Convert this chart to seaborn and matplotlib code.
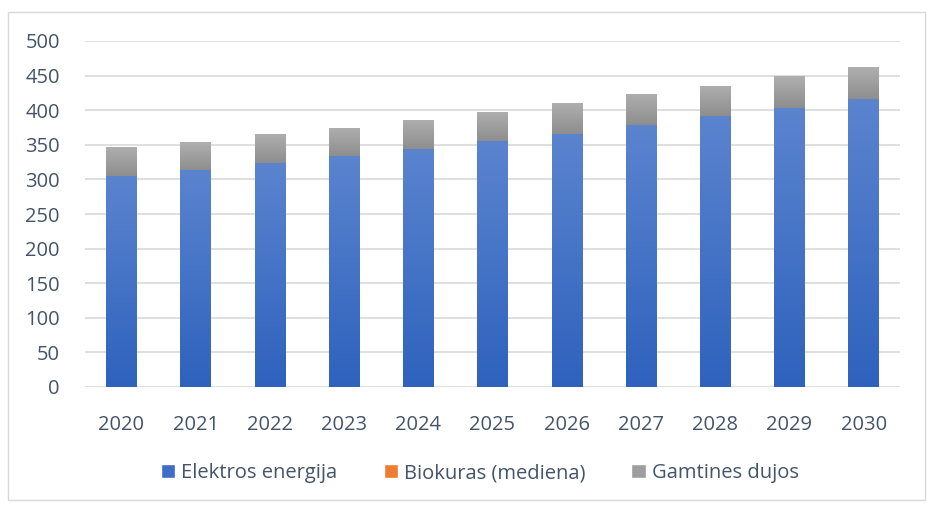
import numpy as np
import pandas as pd
import matplotlib
matplotlib.use('Agg')
import matplotlib.pyplot as plt
import seaborn as sns
from matplotlib.colors import LinearSegmentedColormap
from matplotlib.patches import Patch, Rectangle

# =============================================================================
# Data
# =============================================================================
years = ['2020', '2021', '2022', '2023', '2024', '2025', '2026', '2027', '2028', '2029', '2030']
elektros = [305, 314, 324, 334, 344, 355, 366, 378, 391, 403, 416]
biokuras = [0, 0, 0, 0, 0, 0, 0, 0, 0, 0, 0]
dujos = [42, 40, 42, 41, 42, 43, 45, 45, 44, 46, 46]
series_names = ['Elektros energija', 'Biokuras (mediena)', 'Gamtines dujos']

df = pd.DataFrame({'Metai': years, 'Elektros': elektros,
                   'Biokuras': biokuras, 'Dujos': dujos})
df['Bio_top'] = df['Elektros'] + df['Biokuras']
df['Viso'] = df['Bio_top'] + df['Dujos']

sns.set_style('white')
plt.rcParams['font.family'] = ['Open Sans', 'DejaVu Sans']
txt_col = '#44546A'

fig = plt.figure(figsize=(9.28, 5.05), dpi=100)
ax = fig.add_axes([85 / 928, 1 - 387 / 505, 815 / 928, 346 / 505])

# stacked bars: draw the totals first, then the lower parts over them
sns.barplot(data=df, x='Metai', y='Viso', color='#9E9E9E', width=0.41,
            saturation=1, ax=ax, zorder=2, linewidth=0)
sns.barplot(data=df, x='Metai', y='Bio_top', color='#ED7D31', width=0.41,
            saturation=1, ax=ax, zorder=3, linewidth=0)
sns.barplot(data=df, x='Metai', y='Elektros', color='#4472C4', width=0.41,
            saturation=1, ax=ax, zorder=4, linewidth=0)

n = len(years)
patches = ax.patches
gray_p = patches[:n]
blue_p = patches[2 * n:3 * n]

cm_blue = LinearSegmentedColormap.from_list('b', ['#2E62BD', '#5B84CF'])
cm_gray = LinearSegmentedColormap.from_list('g', ['#8E8E8E', '#AFAFAF'])
grad = np.linspace(0, 1, 256).reshape(-1, 1)

for i in range(n):
    bp, gp = blue_p[i], gray_p[i]
    x0, w = bp.get_x(), bp.get_width()
    im = ax.imshow(grad, extent=[x0, x0 + w, 0, bp.get_height()], origin='lower',
                   aspect='auto', cmap=cm_blue, zorder=4.5)
    im.set_clip_path(bp)
    im2 = ax.imshow(grad, extent=[x0, x0 + w, bp.get_height(), gp.get_height()],
                    origin='lower', aspect='auto', cmap=cm_gray, zorder=2.5)
    im2.set_clip_path(gp)

ax.set_xlim(-0.49, n - 1 + 0.49)
ax.set_ylim(0, 500)
ax.set_yticks(range(0, 501, 50))
ax.yaxis.grid(True, color='#D9D9D9', linewidth=1.2, zorder=0)
ax.set_axisbelow(True)
for s in ax.spines.values():
    s.set_visible(False)
ax.set_xlabel('')
ax.set_ylabel('')
ax.tick_params(axis='both', length=0, labelsize=14.5, labelcolor=txt_col)
ax.tick_params(axis='y', pad=18)
ax.tick_params(axis='x', pad=20)

handles = [Patch(facecolor='#3F6CC4', label=series_names[0]),
           Patch(facecolor='#ED7D31', label=series_names[1]),
           Patch(facecolor='#9E9E9E', label=series_names[2])]
fig.legend(handles=handles, loc='center', bbox_to_anchor=(0.517, 0.063), ncol=3,
           frameon=False, fontsize=14.5, labelcolor=txt_col, handlelength=0.7,
           handleheight=0.7, handletextpad=0.3, columnspacing=2.3)

fig.patches.append(Rectangle((8 / 928, 5 / 505), 917 / 928, 488 / 505,
                             transform=fig.transFigure, fill=False,
                             edgecolor='#D9D9D9', linewidth=1))

fig.savefig('out.png', dpi=100)
